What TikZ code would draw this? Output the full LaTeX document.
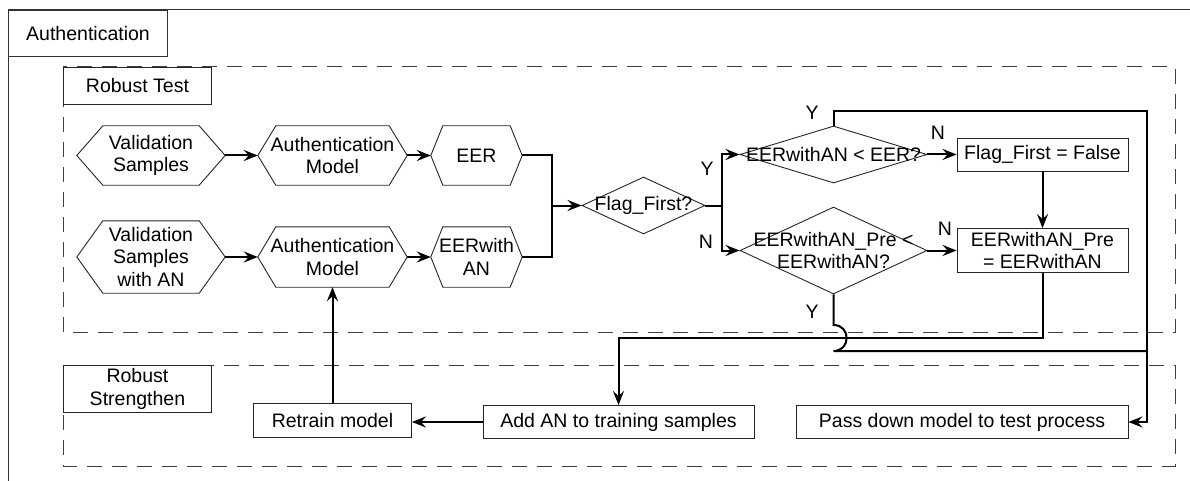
\documentclass[tikz,border=0pt]{standalone}
\usepackage{fontspec}
\setmainfont{Liberation Sans}
\usetikzlibrary{arrows.meta,shapes.geometric}

% hexagon outline round a named node: name, slant
\newcommand{\hexdraw}[2]{%
	\draw[thinline] (#1.west) -- ([xshift=#2pt]#1.north west) -- ([xshift=-#2pt]#1.north east)
		-- (#1.east) -- ([xshift=-#2pt]#1.south east) -- ([xshift=#2pt]#1.south west) -- cycle;}

\begin{document}
\begin{tikzpicture}[x=1pt, y=-1pt,
		every node/.style={font=\fontsize{19.5}{22.5}\selectfont, align=center, inner sep=0pt},
		thinline/.style={draw=black!85, line width=0.9pt},
		conn/.style={draw=black, line width=2pt},
		arrow/.style={conn, -{Stealth[length=14pt, width=11pt, inset=5pt]}},
		frame/.style={draw=black!80, line width=1pt},
		area/.style={draw=black!75, line width=1pt, dash pattern=on 15pt off 10pt},
		hexa/.style={rectangle},
		process/.style={rectangle, thinline},
		decision/.style={diamond, thinline}]
	\useasboundingbox (0,0) rectangle (1190,481);

	% Draw the outer frame and the areas
	\draw[frame] (8,481) -- (8,10) -- (1190,10);
	\node[process, frame, minimum width=159, minimum height=46, anchor=north west] (auth) at (8,10) {Authentication};
	\draw[area] (63,67) rectangle (1175,332);
	\draw[area] (63,365) rectangle (1175,466);
	\node[process, minimum width=148, minimum height=37, anchor=north west] (testbox) at (63,67) {Robust Test};
	\node[process, minimum width=148, minimum height=47, anchor=north west] (strbox) at (63,365) {Robust\\Strengthen};

	% Draw the hexagons
	\node[hexa, minimum width=148, minimum height=59] (vs) at (151,155.5) {Validation\\Samples};
	\node[hexa, minimum width=149, minimum height=59] (am) at (332.5,155.5) {Authentication\\Model};
	\node[hexa, minimum width=91, minimum height=59] (eer) at (476.5,155.5) {EER};
	\node[hexa, minimum width=148, minimum height=72] (vsan) at (151,257) {Validation\\Samples\\with AN};
	\node[hexa, minimum width=149, minimum height=60] (aman) at (332.5,257) {Authentication\\Model};
	\node[hexa, minimum width=91, minimum height=60] (eeran) at (476.5,257) {EERwith\\AN};
	\hexdraw{vs}{26}
	\hexdraw{am}{18}
	\hexdraw{eer}{12}
	\hexdraw{vsan}{26}
	\hexdraw{aman}{18}
	\hexdraw{eeran}{12}

	% Draw the decisions
	\node[decision, minimum width=123, minimum height=57, label=center:{Flag\_First?}] (flag) at (643.5,205.5) {};
	\node[decision, minimum width=187, minimum height=57, label=center:{EERwithAN < EER?}] (d1) at (833.5,154.5) {};
	\node[decision, minimum width=187, minimum height=87, label=center:{EERwithAN\_Pre <\\EERwithAN?}] (d2) at (833.5,250.5) {};

	% Draw the process boxes
	\node[process, minimum width=171, minimum height=33] (nofirst) at (1042.5,154.5) {Flag\_First = False};
	\node[process, minimum width=171, minimum height=44] (preset) at (1042.5,250.5) {EERwithAN\_Pre\\= EERwithAN};
	\node[process, minimum width=158, minimum height=34] (retrain) at (332.5,420.5) {Retrain model};
	\node[process, minimum width=271, minimum height=33] (addan) at (618.5,422) {Add AN to training samples};
	\node[process, minimum width=332, minimum height=33] (pass) at (962,422) {Pass down model to test process};

	% Draw the connectors
	\draw[arrow] (vs.east) -- (am.west);
	\draw[arrow] (am.east) -- (eer.west);
	\draw[arrow] (vsan.east) -- (aman.west);
	\draw[arrow] (aman.east) -- (eeran.west);
	\coordinate (merge) at (552,205.5);
	\draw[conn] (eer.east) -| (merge) |- (eeran.east);
	\draw[arrow] (merge) -- (flag.west);
	\coordinate (split) at (722,205.5);
	\draw[conn] (flag.east) -- (split);
	\draw[arrow] (split) |- (d1.west);
	\draw[arrow] (split) |- (d2.west);
	\draw[arrow] (d1.east) -- (nofirst.west);
	\draw[arrow] (d2.east) -- (preset.west);
	\draw[arrow] (nofirst.south) -- (preset.north);
	\coordinate (loop) at (1147,111);
	\coordinate (join) at (1147,351);
	\draw[arrow] (d1.north) |- (loop) |- (pass.east);
	\draw[conn] (d2.south) -- (833.5,325) .. controls (851,325) and (851,351) .. (833.5,351) -- (join);
	\draw[arrow] (preset.south) -- ++(0,65.5) -| (addan.north);
	\draw[arrow] (addan.west) -- (addan.west -| retrain.east);
	\draw[arrow] (retrain.north) -- (aman.south);

	% Draw the branch labels
	\node (y1) at (707,169) {Y};
	\node (n1) at (706,242) {N};
	\node (y2) at (812,113) {Y};
	\node (y3) at (812,312) {Y};
	\node (n2) at (938,133) {N};
	\node (n3) at (945,229) {N};
\end{tikzpicture}
\end{document}
